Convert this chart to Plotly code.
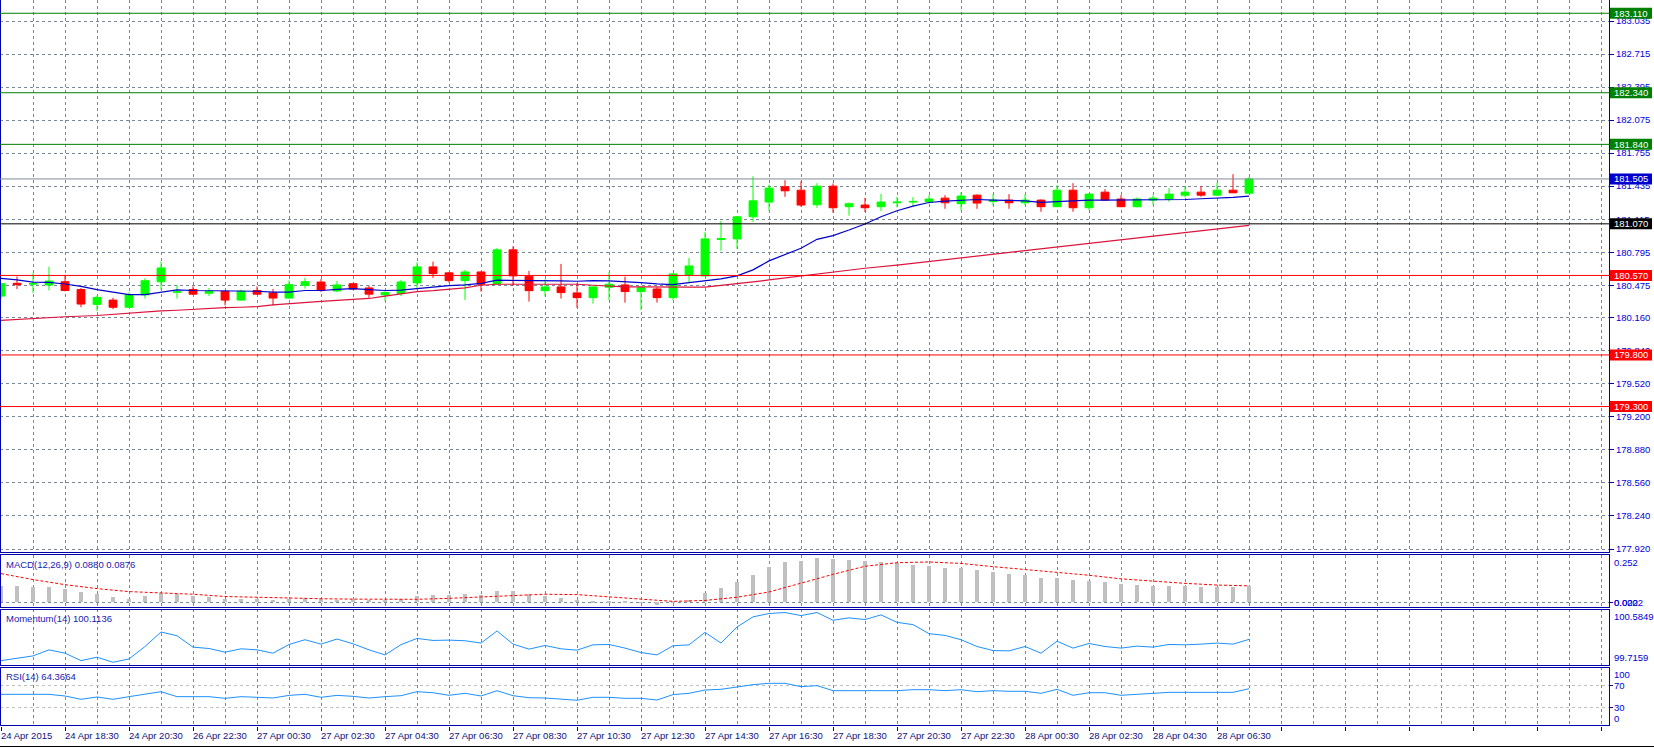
import plotly.graph_objects as go

# ---------------- data ----------------
x_labels = ["24 Apr 2015", "24 Apr 18:30", "24 Apr 20:30", "26 Apr 22:30", "27 Apr 00:30",
            "27 Apr 02:30", "27 Apr 04:30", "27 Apr 06:30", "27 Apr 08:30", "27 Apr 10:30",
            "27 Apr 12:30", "27 Apr 14:30", "27 Apr 16:30", "27 Apr 18:30", "27 Apr 20:30",
            "27 Apr 22:30", "28 Apr 00:30", "28 Apr 02:30", "28 Apr 04:30", "28 Apr 06:30"]

open_ = [180.370, 180.494, 180.487, 180.477, 180.509, 180.433, 180.290, 180.331, 180.262, 180.382,
         180.509, 180.408, 180.433, 180.398, 180.417, 180.331, 180.424, 180.401, 180.351, 180.474,
         180.506, 180.420, 180.490, 180.449, 180.382, 180.396, 180.498, 180.653, 180.595, 180.520,
         180.604, 180.488, 180.818, 180.562, 180.423, 180.459, 180.401, 180.355, 180.456, 180.478,
         180.414, 180.439, 180.355, 180.578, 180.566, 180.918, 180.924, 181.138, 181.281, 181.429,
         181.396, 181.255, 181.435, 181.236, 181.252, 181.236, 181.274, 181.281, 181.284, 181.319,
         181.265, 181.348, 181.287, 181.300, 181.274, 181.300, 181.236, 181.396, 181.226, 181.377,
         181.310, 181.236, 181.300, 181.310, 181.348, 181.377, 181.348, 181.396, 181.367]
high = [180.495, 180.560, 180.592, 180.655, 180.576, 180.449, 180.376, 180.354, 180.408, 180.544,
        180.706, 180.478, 180.465, 180.449, 180.424, 180.433, 180.465, 180.439, 180.522, 180.547,
        180.535, 180.516, 180.494, 180.471, 180.417, 180.528, 180.698, 180.704, 180.601, 180.624,
        180.608, 180.837, 180.850, 180.614, 180.533, 180.682, 180.494, 180.462, 180.601, 180.559,
        180.456, 180.456, 180.591, 180.740, 180.992, 181.099, 181.147, 181.531, 181.450, 181.493,
        181.483, 181.464, 181.461, 181.277, 181.322, 181.361, 181.332, 181.329, 181.348, 181.348,
        181.377, 181.355, 181.358, 181.358, 181.355, 181.306, 181.445, 181.464, 181.364, 181.406,
        181.348, 181.326, 181.345, 181.416, 181.435, 181.435, 181.470, 181.551, 181.525]
low = [180.344, 180.439, 180.401, 180.424, 180.417, 180.262, 180.227, 180.243, 180.258, 180.347,
       180.433, 180.347, 180.382, 180.370, 180.281, 180.328, 180.382, 180.278, 180.347, 180.443,
       180.411, 180.408, 180.436, 180.354, 180.322, 180.370, 180.446, 180.546, 180.501, 180.333,
       180.414, 180.481, 180.469, 180.317, 180.365, 180.346, 180.258, 180.297, 180.330, 180.307,
       180.236, 180.307, 180.333, 180.501, 180.566, 180.808, 180.827, 181.089, 181.194, 181.332,
       181.236, 181.226, 181.178, 181.149, 181.184, 181.194, 181.229, 181.236, 181.268, 181.216,
       181.200, 181.216, 181.248, 181.216, 181.252, 181.187, 181.232, 181.187, 181.203, 181.297,
       181.232, 181.229, 181.255, 181.284, 181.326, 181.332, 181.345, 181.367, 181.364]
close = [180.490, 180.481, 180.490, 180.516, 180.424, 180.293, 180.357, 180.262, 180.382, 180.519,
         180.643, 180.411, 180.389, 180.417, 180.331, 180.417, 180.389, 180.351, 180.481, 180.509,
         180.424, 180.478, 180.439, 180.389, 180.404, 180.507, 180.653, 180.588, 180.520, 180.604,
         180.485, 180.818, 180.566, 180.423, 180.459, 180.404, 180.355, 180.459, 180.485, 180.414,
         180.452, 180.355, 180.585, 180.662, 180.924, 180.928, 181.138, 181.293, 181.416, 181.390,
         181.252, 181.435, 181.226, 181.265, 181.226, 181.281, 181.281, 181.287, 181.310, 181.274,
         181.339, 181.271, 181.300, 181.274, 181.300, 181.236, 181.396, 181.226, 181.358, 181.300,
         181.236, 181.310, 181.319, 181.358, 181.377, 181.348, 181.396, 181.371, 181.505]

ma_fast = [180.541, 180.528, 180.506, 180.503, 180.487, 180.465, 180.433, 180.408, 180.385, 180.385,
           180.411, 180.430, 180.424, 180.424, 180.424, 180.424, 180.417, 180.408, 180.408, 180.424,
           180.424, 180.436, 180.443, 180.433, 180.424, 180.427, 180.443, 180.462, 180.472, 180.478,
           180.494, 180.524, 180.524, 180.524, 180.524, 180.517, 180.514, 180.520, 180.517, 180.511,
           180.501, 180.488, 180.481, 180.501, 180.520, 180.536, 180.566, 180.624, 180.711, 180.769,
           180.834, 180.920, 180.956, 181.010, 181.068, 181.139, 181.197, 181.242, 181.277, 181.290,
           181.300, 181.306, 181.300, 181.293, 181.293, 181.277, 181.287, 181.293, 181.300, 181.300,
           181.300, 181.300, 181.300, 181.306, 181.306, 181.313, 181.319, 181.326, 181.339]

ma_slow_idx = [0, 2, 4, 6, 8] + list(range(9, 55)) + list(range(56, 79, 2))
ma_slow = [180.135, 180.154, 180.170, 180.182, 180.204,
           180.220, 180.227, 180.233, 180.243, 180.249, 180.259, 180.262, 180.268, 180.284, 180.297,
           180.306, 180.319, 180.328, 180.338, 180.347, 180.370, 180.392, 180.414, 180.423, 180.439,
           180.449, 180.475, 180.485, 180.485, 180.485, 180.485, 180.488, 180.485, 180.475, 180.465,
           180.459, 180.459, 180.456, 180.456, 180.456, 180.456, 180.472, 180.485, 180.507, 180.527,
           180.546, 180.562, 180.585, 180.605, 180.625, 180.640,
           180.670, 180.705, 180.747, 180.776, 180.811, 180.850, 180.880, 180.917, 180.955, 180.990,
           181.022, 181.055]

macd = [0.085, 0.085, 0.082, 0.080, 0.069, 0.053, 0.044, 0.027, 0.020, 0.034,
        0.050, 0.046, 0.036, 0.027, 0.016, 0.016, 0.016, 0.011, 0.018, 0.021,
        0.018, 0.014, 0.016, 0.011, 0.012, 0.018, 0.032, 0.039, 0.039, 0.044,
        0.039, 0.060, 0.060, 0.043, 0.034, 0.023, 0.012, 0.007, 0.004, 0.002,
        -0.003, -0.014, 0.002, 0.014, 0.050, 0.075, 0.107, 0.145, 0.188, 0.213,
        0.220, 0.234, 0.231, 0.224, 0.220, 0.213, 0.209, 0.199, 0.192, 0.181,
        0.181, 0.170, 0.160, 0.149, 0.145, 0.128, 0.128, 0.117, 0.113, 0.107,
        0.096, 0.092, 0.087, 0.087, 0.087, 0.082, 0.082, 0.082, 0.088]
signal_idx = list(range(0, 79, 2))
signal = [0.153, 0.121, 0.094, 0.073, 0.057, 0.049, 0.043, 0.031, 0.026, 0.022,
          0.019, 0.017, 0.016, 0.016, 0.021, 0.028, 0.039, 0.043, 0.041, 0.030,
          0.018, 0.005, 0.010, 0.027, 0.055, 0.103, 0.149, 0.192, 0.211, 0.215,
          0.207, 0.190, 0.176, 0.160, 0.144, 0.125, 0.111, 0.101, 0.092, 0.0876]

momentum = [99.784, 99.815, 99.857, 99.951, 99.899, 99.784, 99.837, 99.758, 99.810, 100.003,
            100.228, 100.170, 99.993, 99.972, 99.915, 99.967, 99.951, 99.899, 100.034, 100.108,
            100.040, 100.119, 100.045, 99.951, 99.873, 100.032, 100.128, 100.097, 100.102, 100.092,
            100.056, 100.244, 100.040, 99.962, 100.019, 99.967, 99.946, 100.029, 100.035, 99.978,
            99.909, 99.873, 100.014, 100.029, 100.222, 100.056, 100.306, 100.463, 100.515, 100.530,
            100.483, 100.530, 100.410, 100.447, 100.421, 100.494, 100.378, 100.342, 100.202, 100.175,
            100.108, 100.003, 99.940, 99.935, 100.003, 99.899, 100.085, 99.978, 100.050, 100.003,
            99.978, 100.009, 99.993, 100.035, 100.029, 100.040, 100.056, 100.040, 100.1136]

rsi = [54.0, 54.0, 54.0, 54.0, 50.9, 44.8, 49.1, 44.8, 49.7, 54.6,
       58.9, 49.7, 49.7, 49.7, 46.6, 49.7, 48.5, 47.2, 52.1, 54.0,
       48.5, 52.1, 50.3, 47.2, 49.7, 51.5, 58.9, 57.0, 52.2, 55.9,
       50.9, 60.7, 51.5, 47.8, 47.2, 44.8, 43.0, 48.5, 48.5, 46.6,
       46.6, 43.5, 53.5, 55.9, 62.0, 63.3, 68.2, 71.9, 74.4, 74.4,
       68.2, 70.1, 60.8, 60.8, 60.8, 60.8, 60.8, 62.6, 62.6, 60.8,
       62.6, 58.9, 60.8, 59.6, 59.6, 55.9, 63.3, 52.2, 57.0, 57.0,
       52.2, 54.0, 55.9, 57.7, 57.7, 57.7, 57.7, 57.7, 64.3664]

price_ticks = [183.035, 182.715, 182.395, 182.075, 181.755, 181.435, 181.115, 180.795, 180.475,
               180.160, 179.840, 179.520, 179.200, 178.880, 178.560, 178.240, 177.920]
price_tick_text = ["183.035", "182.715", "182.395", "182.075", "181.755", "181.435", "181.115",
                   "180.795", "180.475", "180.160", "179.840", "179.520", "179.200", "178.880",
                   "178.560", "178.240", "177.920"]

levels = [183.110, 182.340, 181.840, 181.505, 181.070, 180.570, 179.800, 179.300]
level_text = ["183.110", "182.340", "181.840", "181.505", "181.070", "180.570", "179.800", "179.300"]
level_line_color = ["#008000", "#008000", "#008000", "#7f8c99", "#000000", "#FF0000", "#FF0000", "#FF0000"]
level_box_color = ["#008000", "#008000", "#008000", "#0000CD", "#000000", "#FF0000", "#FF0000", "#FF0000"]

macd_title = "MACD(12,26,9) 0.0880 0.0876"
mom_title = "Momentum(14) 100.1136"
rsi_title = "RSI(14) 64.3664"

# ---------------- figure ----------------
FONT = "Liberation Sans"
AXC = "#0000AA"
TXT = "#0000DD"
GRID = "#778899"
N = len(close)
idx = list(range(N))

W, H = 1654, 748
ML, MR, MT, MB = 0, 45, 0, 22
PW = W - ML - MR
PH = H - MT - MB


def fy(px):  # pixel row -> paper fraction
    return (PH - px) / PH


def fx(px):
    return px / PW


fig = go.Figure()
fig.add_trace(go.Candlestick(
    x=idx, open=open_, high=high, low=low, close=close,
    increasing=dict(line=dict(color="#00FF00", width=1), fillcolor="#00FF00"),
    decreasing=dict(line=dict(color="#FF0000", width=1), fillcolor="#FF0000"),
    whiskerwidth=0, hoverinfo="skip", xaxis="x", yaxis="y"))
fig.add_trace(go.Scatter(x=idx, y=ma_fast, mode="lines", line=dict(color="#0000CD", width=1.2),
                         xaxis="x", yaxis="y", hoverinfo="skip"))
fig.add_trace(go.Scatter(x=ma_slow_idx, y=ma_slow, mode="lines", line=dict(color="#DC143C", width=1.2),
                         xaxis="x", yaxis="y", hoverinfo="skip"))

fig.add_trace(go.Bar(x=idx, y=macd, width=0.19, marker=dict(color="#C0C0C0", line=dict(width=0)),
                     xaxis="x", yaxis="y2", hoverinfo="skip"))
fig.add_trace(go.Scatter(x=signal_idx, y=signal, mode="lines",
                         line=dict(color="#FF0000", width=1, dash="3px,2px"),
                         xaxis="x", yaxis="y2", hoverinfo="skip"))
fig.add_trace(go.Scatter(x=idx, y=momentum, mode="lines", line=dict(color="#1E90FF", width=1),
                         xaxis="x", yaxis="y3", hoverinfo="skip"))
fig.add_trace(go.Scatter(x=idx, y=rsi, mode="lines", line=dict(color="#1E90FF", width=1),
                         xaxis="x", yaxis="y4", hoverinfo="skip"))

main_dom = [fy(553), 1.0]
macd_dom = [fy(607), fy(555)]
mom_dom = [fy(665), fy(609)]
rsi_dom = [0.0, fy(667)]

ppu = 528 / (183.035 - 177.920)
main_range = [177.920 - 4 / ppu, 183.035 + 21 / ppu]

fig.update_layout(
    width=W, height=H, margin=dict(l=ML, r=MR, t=MT, b=MB),
    paper_bgcolor="white", plot_bgcolor="white", showlegend=False,
    font=dict(family=FONT, size=9, color=TXT),
    bargap=0,
    xaxis=dict(domain=[0, 1], anchor="y4", range=[-1 / 16, (PW - 1) / 16],
               tick0=0, dtick=4, showgrid=True, gridcolor=GRID, griddash="3px,3px", gridwidth=1,
               ticks="outside", ticklen=4, tickcolor=AXC, showticklabels=False,
               zeroline=False, showline=False, rangeslider=dict(visible=False),
               minor=dict(tick0=0, dtick=2, showgrid=True, gridcolor=GRID, griddash="3px,3px",
                          gridwidth=1, ticks="")),
    yaxis=dict(domain=main_dom, anchor="x", side="right", range=main_range,
               tickmode="array", tickvals=price_ticks, ticktext=price_tick_text,
               showgrid=True, gridcolor=GRID, griddash="3px,3px", gridwidth=1,
               ticks="outside", ticklen=4, tickcolor=AXC,
               tickfont=dict(family=FONT, size=9.5, color=TXT),
               zeroline=False, showline=False),
    yaxis2=dict(domain=macd_dom, anchor="x", side="right", range=[-0.025, 0.252],
                tickmode="array", tickvals=[0], showticklabels=False,
                showgrid=True, gridcolor=GRID, griddash="3px,3px", zeroline=False,
                ticks="outside", ticklen=3, tickcolor=AXC),
    yaxis3=dict(domain=mom_dom, anchor="x", side="right", range=[99.7159, 100.5849],
                showgrid=False, showticklabels=False, zeroline=False),
    yaxis4=dict(domain=rsi_dom, anchor="x", side="right", range=[-4.6, 104.6],
                tickmode="array", tickvals=[30, 70], showticklabels=False,
                showgrid=True, gridcolor="#C0C0C0", griddash="3px,3px", zeroline=False,
                ticks="outside", ticklen=3, tickcolor=AXC),
)

shapes = []
annots = []


def hline_px(row, x0px, x1px, color=AXC):
    shapes.append(dict(type="line", xref="paper", yref="paper",
                       x0=fx(x0px), x1=fx(x1px), y0=fy(row + 0.5), y1=fy(row + 0.5),
                       line=dict(color=color, width=1), layer="above"))


def vline_px(col, r0, r1, color=AXC, width=1):
    shapes.append(dict(type="line", xref="paper", yref="paper",
                       x0=fx(col + 0.5), x1=fx(col + 0.5), y0=fy(r0), y1=fy(r1 + 1),
                       line=dict(color=color, width=width), layer="above"))


RIGHT = 1609
# main chart frame: left, right axis line, bottom
vline_px(0, 0, 552)
vline_px(RIGHT, 0, 552)
hline_px(552, 0, RIGHT + 1)
# sub-panel frames (crisp, pixel aligned)
for top, bot in [(554, 607), (609, 665), (667, 725)]:
    hline_px(top, 0, RIGHT + 1)
    hline_px(bot, 0, RIGHT + 1)
    vline_px(0, top, bot)
    vline_px(RIGHT, top, bot)

# horizontal levels with price boxes
half = 5.5 / ppu
for v, t, lc, bc in zip(levels, level_text, level_line_color, level_box_color):
    shapes.append(dict(type="line", xref="paper", yref="y", x0=0, x1=fx(RIGHT), y0=v, y1=v,
                       line=dict(color=lc, width=1), layer="above"))
    shapes.append(dict(type="rect", xref="paper", yref="y", x0=fx(1610), x1=fx(1652),
                       y0=v - half, y1=v + half, fillcolor=bc, line=dict(width=0), layer="above"))
    annots.append(dict(xref="paper", yref="y", x=fx(1631.5), y=v, text=t, showarrow=False,
                       xanchor="center", yanchor="middle",
                       font=dict(family=FONT, size=9.5, color="white")))

# bottom window border
shapes.append(dict(type="line", xref="paper", yref="paper", x0=0, x1=W / PW,
                   y0=fy(746.5), y1=fy(746.5), line=dict(color="#000000", width=1)))

# time labels
for k, lbl in enumerate(x_labels):
    annots.append(dict(xref="x", yref="paper", x=4 * k, y=fy(735.5), text=lbl, showarrow=False,
                       xanchor="left", yanchor="middle", xshift=-2,
                       font=dict(family=FONT, size=9.5, color="#101080")))

# panel titles
for ya, t in [("y2", macd_title), ("y3", mom_title), ("y4", rsi_title)]:
    annots.append(dict(xref="paper", yref=ya + " domain", x=fx(4), y=1, yshift=-2, text=t,
                       showarrow=False, xanchor="left", yanchor="top",
                       font=dict(family=FONT, size=9.5, color="#2020B0")))

# indicator scale labels
lx = fx(1612)
annots += [
    dict(xref="paper", yref="y2 domain", x=lx, y=1, text="0.252", yanchor="top"),
    dict(xref="paper", yref="y2", x=lx, y=0, text="0.000", yanchor="middle"),
    dict(xref="paper", yref="y2", x=lx, y=0, text="0.0222", yanchor="middle"),
    dict(xref="paper", yref="y3 domain", x=lx, y=1, text="100.5849", yanchor="top"),
    dict(xref="paper", yref="y3 domain", x=lx, y=0, text="99.7159", yanchor="bottom"),
    dict(xref="paper", yref="y4 domain", x=lx, y=1, text="100", yanchor="top"),
    dict(xref="paper", yref="y4", x=lx, y=70, text="70", yanchor="middle"),
    dict(xref="paper", yref="y4", x=lx, y=30, text="30", yanchor="middle"),
    dict(xref="paper", yref="y4 domain", x=lx, y=0, text="0", yanchor="bottom"),
]
for a in annots[-9:]:
    a.update(showarrow=False, xanchor="left", font=dict(family=FONT, size=9.5, color=TXT))

fig.update_layout(shapes=shapes, annotations=annots)
fig.write_html("out.html")
